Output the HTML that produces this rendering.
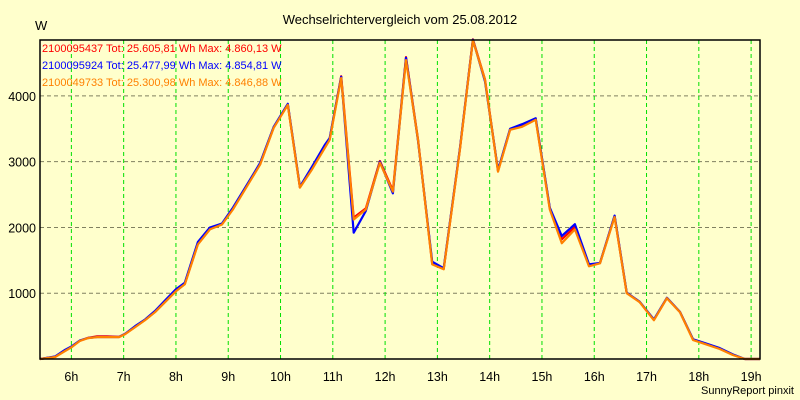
<!DOCTYPE html>
<html><head><meta charset="utf-8"><style>
body{margin:0;background:#ffffcc;}
svg{display:block;font-family:"Liberation Sans",sans-serif;}
</style></head><body>
<svg id="c" width="800" height="400">
<rect width="800" height="400" fill="#ffffcc"/>
<text x="400" y="24" text-anchor="middle" font-size="13">Wechselrichtervergleich vom 25.08.2012</text>
<text x="35" y="30" font-size="13">W</text>
<text x="794" y="394" text-anchor="end" font-size="11">SunnyReport pinxit</text>
<g id="grid"></g><g id="series"></g><g id="axes"></g>
<g font-size="11">
<text x="42" y="52" fill="#ff0000">2100095437 Tot: 25.605,81 Wh Max: 4.860,13 W</text>
<text x="42" y="69" fill="#0000ff">2100095924 Tot: 25.477,99 Wh Max: 4.854,81 W</text>
<text x="42" y="86" fill="#ff8000">2100049733 Tot: 25.300,98 Wh Max: 4.846,88 W</text>
</g>
</svg>
<script>
const times=[5.40,5.69,5.88,6.01,6.16,6.32,6.49,6.68,6.91,7.03,7.22,7.41,7.60,7.79,8.00,8.17,8.42,8.65,8.88,9.09,9.32,9.61,9.87,10.14,10.37,10.60,10.85,10.94,11.16,11.40,11.63,11.90,12.15,12.40,12.63,12.90,13.12,13.43,13.68,13.91,14.16,14.39,14.62,14.88,15.15,15.38,15.63,15.90,16.11,16.39,16.62,16.87,17.14,17.39,17.64,17.89,18.12,18.40,18.65,18.88,19.17];
const orangeVals=[0,30,121,182,273,318,333,333,333,379,485,591,712,864,1030,1136,1742,1970,2045,2273,2576,2955,3515,3864,2606,2879,3212,3333,4273,2121,2273,2985,2545,4545,3333,1439,1364,3180,4845,4242,2848,3485,3530,3636,2273,1760,1970,1410,1455,2159,1000,864,590,924,712,288,227,152,61,0,0];
const blueVals=[0,40,140,195,280,320,335,335,335,385,500,600,730,890,1060,1160,1780,2000,2060,2300,2600,2980,3530,3880,2620,2920,3260,3360,4290,1920,2250,3000,2520,4580,3320,1480,1380,3200,4855,4220,2870,3500,3570,3660,2300,1870,2050,1440,1460,2180,1010,870,600,930,715,300,240,165,70,0,0];
const redVals=[0,35,130,190,276,322,345,345,336,382,490,595,716,870,1035,1140,1750,1975,2050,2280,2590,2960,3520,3870,2610,2900,3230,3345,4300,2150,2290,3010,2560,4590,3340,1450,1370,3190,4860,4250,2860,3490,3560,3650,2290,1820,2010,1420,1460,2170,1005,868,595,928,714,295,235,160,65,0,0];
const xTicks=[6,7,8,9,10,11,12,13,14,15,16,17,18,19];
const yTicks=[1000,2000,3000,4000];
const L=40,R=760,T=40,B=359;
const xMin=5.4,xMax=19.17,yMax=4850;
const xs=h=>L+(h-xMin)/(xMax-xMin)*(R-L);
const ys=v=>B-v/yMax*(B-T);
const NS="http://www.w3.org/2000/svg";
function mk(tag,attrs,parent){const e=document.createElementNS(NS,tag);for(const k in attrs)e.setAttribute(k,attrs[k]);parent.appendChild(e);return e;}
const grid=document.getElementById('grid'),axes=document.getElementById('axes'),ser=document.getElementById('series');
yTicks.forEach(v=>{
 const l=mk('line',{x1:L,x2:R,y1:ys(v),y2:ys(v),stroke:'#808060','stroke-dasharray':'4,3','stroke-width':1},grid);
 
 
 const t=mk('text',{x:L-4,y:ys(v)+5,'text-anchor':'end','font-size':12.5},axes);
 t.textContent=v;
 
 
});
xTicks.forEach(h=>{
 const l=mk('line',{x1:xs(h),x2:xs(h),y1:T,y2:B,stroke:'#00e000','stroke-dasharray':'4,3','stroke-width':1},grid);
 
 
 const t=mk('text',{x:xs(h),y:381,'text-anchor':'middle','font-size':12.5},axes);
 t.textContent=h+'h';
 
 
});
const fr=mk('rect',{x:L,y:T,width:R-L,height:B-T,fill:'none',stroke:'#000','stroke-width':1.5},axes);


[[redVals,'#ff0000','series-red'],[blueVals,'#0000ff','series-blue'],[orangeVals,'#ff8000','series-orange']].forEach(([vals,col,nm])=>{
 const p=mk('polyline',{points:vals.map((v,i)=>xs(times[i]).toFixed(1)+','+ys(v).toFixed(1)).join(' '),fill:'none',stroke:col,'stroke-width':2.2,'stroke-linejoin':'round'},ser);
 
 
});
</script>
</body></html>
